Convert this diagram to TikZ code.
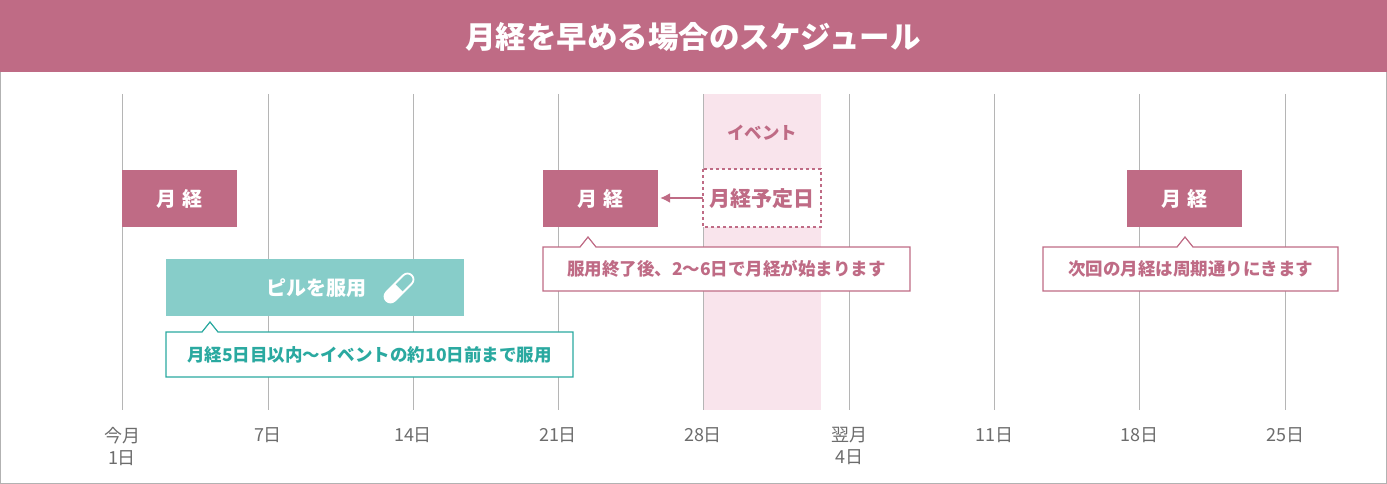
\documentclass[tikz,border=0pt]{standalone}
\usepackage{fontspec}
\setmainfont{Noto Sans CJK JP}
\usetikzlibrary{arrows.meta}
\definecolor{rose}{HTML}{BF6B85}
\definecolor{pinkbg}{HTML}{F9E4EC}
\definecolor{tealf}{HTML}{87CDC9}
\definecolor{teald}{HTML}{2AA9A0}
\definecolor{gline}{HTML}{B5B5B5}
\tikzset{x=1pt,y=-1pt,
  mbox/.style={fill=rose,text=white,inner sep=0pt,font=\bfseries\fontsize{20}{20}\selectfont},
  axlab/.style={text=gray!85!black,font=\fontsize{18}{22}\selectfont,align=center,anchor=north},
  ctext/.style={font=\bfseries\fontsize{17.5}{17.5}\selectfont},
  vline/.style={gline,line width=1pt}}
\begin{document}
\begin{tikzpicture}
\useasboundingbox (0,0) rectangle (1387,484);
\draw[gray!60,line width=1pt] (0.5,0.5) rectangle (1386.5,483.5);
\fill[rose] (0,0) rectangle (1387,72);
\node[text=white,font=\bfseries\fontsize{30.5}{30.5}\selectfont] (title) at (693,37) {月経を早める場合のスケジュール};
% event band
\fill[pinkbg] (703,94) rectangle (821,410);
\node[text=rose,ctext] (ev) at (762,133) {イベント};
% vertical lines and labels
\foreach \x/\t [count=\i] in {122/今月\\1日,268/7日,413/14日,558/21日,703/28日,849/翌月\\4日,994/11日,1139/18日,1285/25日}{
  \draw[vline] (\x,94) -- (\x,410);
  \node[axlab] (ax\i) at (\x,424) {\t};
}
% menses boxes
\fill[rose] (122,170) rectangle (237,227);
\node[mbox] (m1) at (179.5,198.5) {月\,\,経};
\fill[rose] (543,170) rectangle (658,227);
\node[mbox] (m2) at (600.5,198.5) {月\,\,経};
\fill[rose] (1127,170) rectangle (1242,227);
\node[mbox] (m3) at (1184.5,198.5) {月\,\,経};
% dashed planned box
\draw[rose,dashed,line width=1.2pt,fill=white] (703,169) rectangle (821,227);
\node[text=rose,font=\bfseries\fontsize{21}{21}\selectfont] (plan) at (762,198.5) {月経予定日};
\coordinate (pl) at (703,198);
\coordinate (ml) at (660,198);
\draw[rose,line width=2pt,-{Latex[length=10pt,width=10pt]}] (pl) -- (ml);
% callouts
\draw[rose,line width=1.2pt,fill=white] (543,247) -- (580,247) -- (588,237) -- (596,247) -- (910,247) -- (910,291) -- (543,291) -- cycle;
\node[text=rose,ctext] (c1) at (726.5,269) {服用終了後、2〜6日で月経が始まります};
\draw[rose,line width=1.2pt,fill=white] (1043,247) -- (1177,247) -- (1185,237) -- (1193,247) -- (1338,247) -- (1338,291) -- (1043,291) -- cycle;
\node[text=rose,ctext] (c2) at (1190.5,269) {次回の月経は周期通りにきます};
% pill box
\fill[tealf] (166,259) rectangle (464,316);
\node[text=white,font=\bfseries\fontsize{20}{20}\selectfont] (pill) at (316,288) {ピルを服用};
\begin{scope}[shift={(399,288)},rotate=45]
  \fill[white] (-12,-6) rectangle (0,6);
  \fill[white] (-12,0) circle (6);
  \draw[white,line width=1.8pt] (-12,-6) -- (12,-6) arc (-90:90:6) -- (-12,6) arc (90:270:6);
\end{scope}
\draw[teald,line width=1.2pt,fill=white] (166,332) -- (202,332) -- (210,322) -- (218,332) -- (573,332) -- (573,377) -- (166,377) -- cycle;
\node[text=teald,ctext] (c3) at (369.5,355) {月経5日目以内〜イベントの約10日前まで服用};
\end{tikzpicture}
\end{document}
